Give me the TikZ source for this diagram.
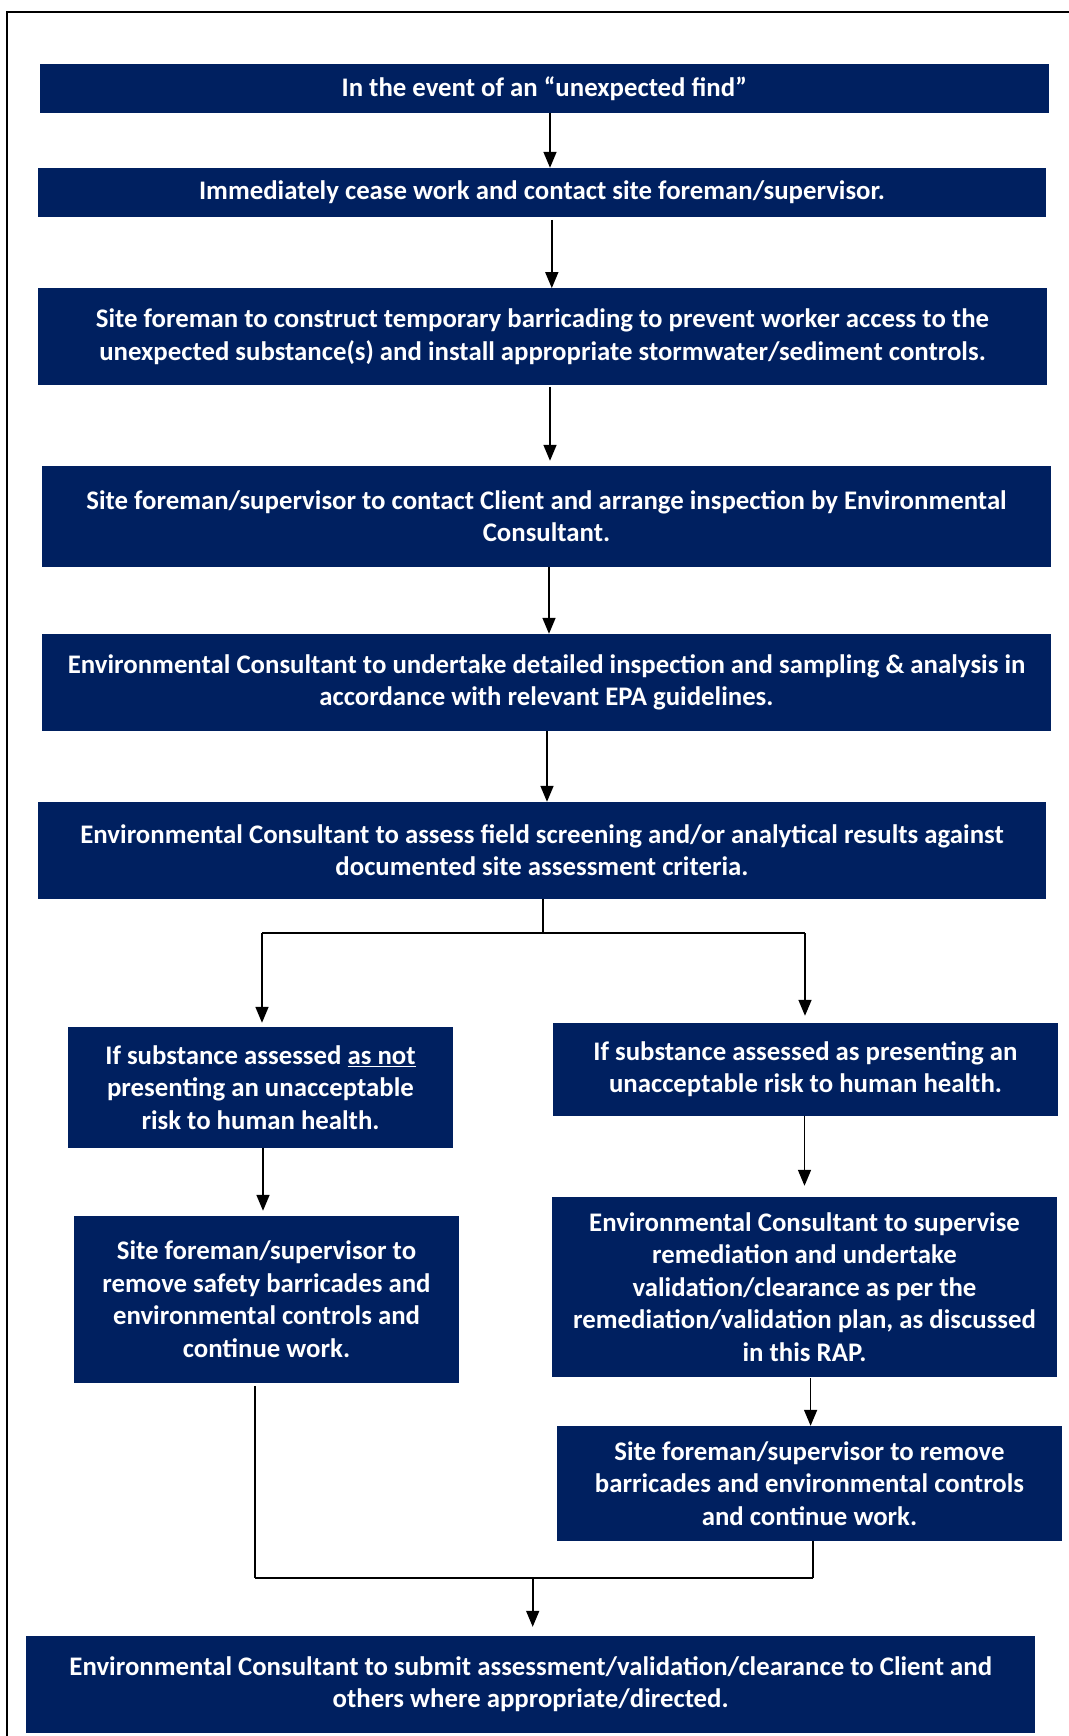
\documentclass[tikz,border=0pt]{standalone}
\usepackage{fontspec}
\setmainfont{Carlito}
\usetikzlibrary{arrows.meta}
\definecolor{navy}{HTML}{002060}
\begin{document}
\begin{tikzpicture}[x=1pt,y=-1pt,
  box/.style={fill=navy, text=white, font=\bfseries\fontsize{26.8}{32.5}\selectfont, align=center, inner sep=0pt},
  arr/.style={line width=1.6pt, -{Triangle[width=13pt,length=16pt]}},
  ln/.style={line width=1.6pt}]
\useasboundingbox (0,0) rectangle (1068,1736);
\draw[line width=2pt] (7,1745) -- (7,12) -- (1075,12);

\node[box, minimum width=1009.5, minimum height=48.7] (b1) at (544.25,88.35) {In the event of an “unexpected find”};
\node[box, minimum width=1008, minimum height=48.7] (b2) at (542,192.35) {Immediately cease work and contact site foreman/supervisor.};
\node[box, minimum width=1009, minimum height=96.4] (b3) at (542.5,336.5) {Site foreman to construct temporary barricading to prevent worker access to the\\unexpected substance(s) and install appropriate stormwater/sediment controls.};
\node[box, minimum width=1009, minimum height=100.7] (b4) at (546.5,516.35) {Site foreman/supervisor to contact Client and arrange inspection by Environmental\\Consultant.};
\node[box, minimum width=1009, minimum height=96.7] (b5) at (546.5,682.35) {Environmental Consultant to undertake detailed inspection and sampling \& analysis in\\accordance with relevant EPA guidelines.};
\node[box, minimum width=1008, minimum height=96.7] (b6) at (542,850.35) {Environmental Consultant to assess field screening and/or analytical results against\\documented site assessment criteria.};
\node[box, minimum width=385, minimum height=120.7] (b7) at (260.5,1087.35) {If substance assessed \underline{as not}\\presenting an unacceptable\\risk to human health.};
\node[box, minimum width=505, minimum height=92.7] (b8) at (805.5,1069.35) {If substance assessed as presenting an\\unacceptable risk to human health.};
\node[box, minimum width=385, minimum height=166.7] (b9) at (266.5,1299.35) {Site foreman/supervisor to\\remove safety barricades and\\environmental controls and\\continue work.};
\node[box, minimum width=505, minimum height=179.7] (b10) at (804.5,1286.85) {Environmental Consultant to supervise\\remediation and undertake\\validation/clearance as per the\\remediation/validation plan, as discussed\\in this RAP.};
\node[box, minimum width=505, minimum height=114.7] (b11) at (809.5,1483.35) {Site foreman/supervisor to remove\\barricades and environmental controls\\and continue work.};
\node[box, minimum width=1009.4, minimum height=96.7] (b12) at (530.7,1684.35) {Environmental Consultant to submit assessment/validation/clearance to Client and\\others where appropriate/directed.};

\coordinate (x1) at (550,0);
\coordinate (x2) at (551.8,0);
\coordinate (x3) at (550,0);
\coordinate (x4) at (549,0);
\coordinate (x5) at (547,0);
\coordinate (x7) at (263,0);
\coordinate (x8) at (804.5,0);
\coordinate (x9) at (810.6,0);
\coordinate (s1) at (543,933);
\coordinate (jl) at (262,933);
\coordinate (jr) at (805,933);
\coordinate (m1) at (254.8,1578);
\coordinate (m2) at (812.7,1578);
\coordinate (m3) at (532.7,1578);

\draw[arr] (b1.south -| x1) -- (b2.north -| x1);
\draw[arr, shorten <=3pt] (b2.south -| x2) -- (b3.north -| x2);
\draw[arr, shorten <=2pt, shorten >=5pt] (b3.south -| x3) -- (b4.north -| x3);
\draw[arr] (b4.south -| x4) -- (b5.north -| x4);
\draw[arr] (b5.south -| x5) -- (b6.north -| x5);
\draw[ln] (b6.south -| s1) -- (s1);
\draw[ln] (jl) -- (jr);
\draw[arr, shorten >=4pt] (jl) -- (b7.north -| jl);
\draw[arr, shorten >=7pt] (jr) -- (b8.north -| jr);
\draw[arr, shorten >=5pt] (b7.south -| x7) -- (b9.north -| x7);
\draw[arr, shorten >=11pt] (b8.south -| x8) -- (b10.north -| x8);
\draw[arr, shorten <=1pt] (b10.south -| x9) -- (b11.north -| x9);
\draw[ln, shorten <=3pt] (b9.south -| m1) -- (m1);
\draw[ln, line width=2.2pt] (m1) -- (m2);
\draw[ln] (b11.south -| m2) -- (m2);
\draw[arr, shorten >=9pt] (m3) -- (b12.north -| m3);
\end{tikzpicture}
\end{document}
